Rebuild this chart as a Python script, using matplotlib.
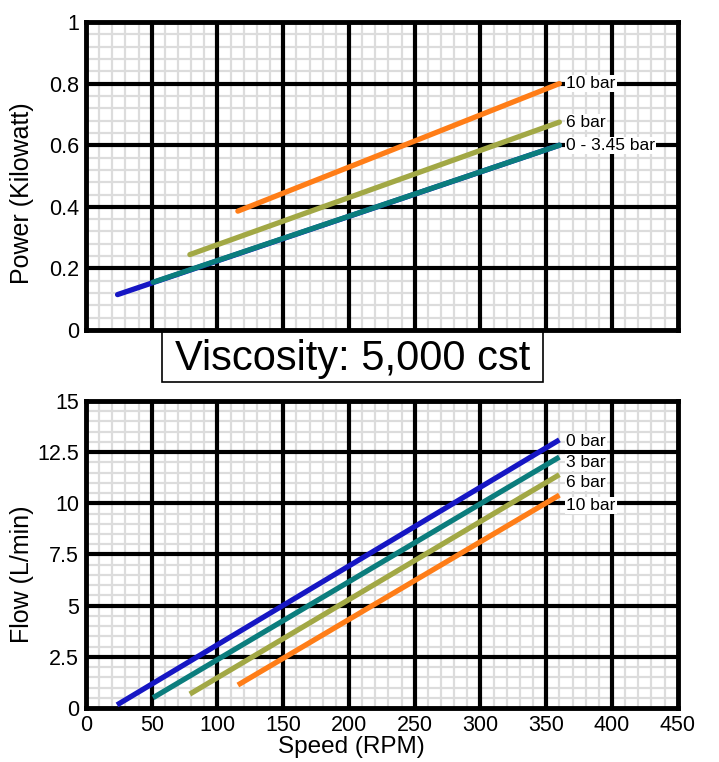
import numpy as np
import matplotlib
matplotlib.use("Agg")
import matplotlib.pyplot as plt
from matplotlib.ticker import MultipleLocator, FixedLocator
from matplotlib.patches import Rectangle

plt.rcParams['font.family'] = ['Liberation Sans', 'DejaVu Sans']

## data
# power (kW) vs speed (RPM), straight lines: start / end points
pw_names = ['0 - 3.45 bar', '0 - 3.45 bar', '6 bar', '10 bar']
pw_speed = [[24, 360], [51, 360], [79, 360], [115.5, 360]]
pw_power = [[0.115, 0.60], [0.155, 0.60], [0.245, 0.675], [0.386, 0.80]]
pw_label_y = [None, 0.60, 0.675, 0.80]

# flow (L/min) vs speed
fl_names = ['0 bar', '3 bar', '6 bar', '10 bar']
fl_speed = [[23.6, 360], [51, 360], [79, 360], [115.5, 360]]
fl_flow = [[0.15, 13.1], [0.5, 12.26], [0.68, 11.4], [1.12, 10.4]]
fl_label_y = [13.0, 12.0, 11.0, 9.9]

colors_pw = ['#1616c4', '#0b7d7d', '#a2a845', '#ff7d17']
colors_fl = ['#1616c4', '#0b7d7d', '#a2a845', '#ff7d17']

x_ticks = [0, 50, 100, 150, 200, 250, 300, 350, 400, 450]
pw_ticks = [0, 0.2, 0.4, 0.6, 0.8, 1]
pw_ticklabels = ['0', '0.2', '0.4', '0.6', '0.8', '1']
fl_ticks = [0, 2.5, 5, 7.5, 10, 12.5, 15]
fl_ticklabels = ['0', '2.5', '5', '7.5', '10', '12.5', '15']

fig = plt.figure(figsize=(7.19, 7.62), dpi=100)
ax1 = fig.add_axes([0.1196, 0.5669, 0.823, 0.4042])
ax2 = fig.add_axes([0.1196, 0.0709, 0.823, 0.4029])

def setup(ax, yticks, ylabels, yminor):
    ax.set_xlim(0, 450)
    ax.set_ylim(yticks[0], yticks[-1])
    ax.xaxis.set_major_locator(FixedLocator(x_ticks))
    ax.yaxis.set_major_locator(FixedLocator(yticks))
    ax.xaxis.set_minor_locator(MultipleLocator(10))
    ax.yaxis.set_minor_locator(MultipleLocator(yminor))
    ax.set_yticklabels(ylabels)
    ax.tick_params(which='both', length=0, labelsize=15.5, pad=5)
    ax.grid(which='minor', color='#dcdcdc', lw=1.6, zorder=0)
    ax.set_axisbelow(True)
    for x in x_ticks[1:-1]:
        ax.axvline(x, color='black', lw=3, zorder=1.5)
    for y in yticks[1:-1]:
        ax.axhline(y, color='black', lw=3, zorder=1.5)
    for s in ax.spines.values():
        s.set_linewidth(3.5)
        s.set_zorder(2)

setup(ax1, pw_ticks, pw_ticklabels, 0.04)
setup(ax2, fl_ticks, fl_ticklabels, 0.5)
ax1.set_xticklabels([])

box = dict(facecolor='white', edgecolor='none', pad=0.6)

for i in range(len(pw_speed)):
    ax1.plot(pw_speed[i], pw_power[i], color=colors_pw[i], lw=3.8,
             solid_capstyle='round', zorder=3)
    if pw_label_y[i] is not None:
        ax1.annotate(pw_names[i], (360, pw_label_y[i]), xytext=(5, 0),
                     textcoords='offset points', va='center', ha='left',
                     fontsize=12.5, bbox=box, zorder=4)

for i in range(len(fl_speed)):
    ax2.plot(fl_speed[i], fl_flow[i], color=colors_fl[i], lw=3.8,
             solid_capstyle='butt', zorder=3)
    ax2.annotate(fl_names[i], (360, fl_label_y[i]), xytext=(5, 0),
                 textcoords='offset points', va='center', ha='left',
                 fontsize=12.5, bbox=box, zorder=4)

ax1.set_ylabel('Power (Kilowatt)', fontsize=18)
ax1.yaxis.set_label_coords(-0.088, 0.445)
ax2.set_ylabel('Flow (L/min)', fontsize=18)
ax2.yaxis.set_label_coords(-0.088, 0.436)
ax2.set_xlabel('Speed (RPM)', fontsize=17.5)
ax2.xaxis.set_label_coords(0.449, -0.092)

# viscosity box between the panels
fig.patches.append(Rectangle((162 / 719, 1 - 382 / 762), (543 - 162) / 719, 52 / 762,
                             transform=fig.transFigure, fill=False,
                             edgecolor='black', lw=1.2))
fig.text(352.5 / 719, 1 - 359 / 762, 'Viscosity: 5,000 cst', fontsize=30,
         ha='center', va='center')

fig.savefig('out.png', dpi=100)
